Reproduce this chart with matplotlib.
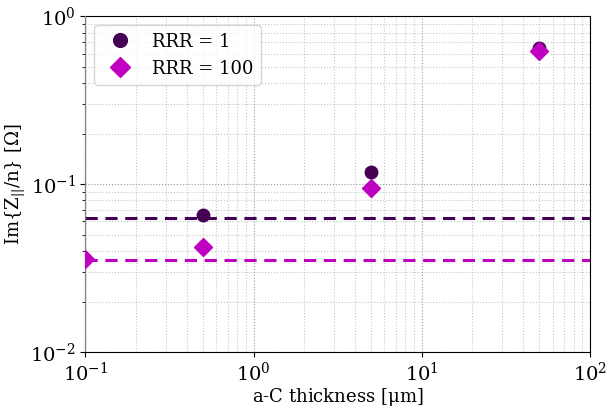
import matplotlib
matplotlib.use('Agg')
import matplotlib.pyplot as plt
import numpy as np

# a-C coating thickness [um]
thickness_rrr1 = [0.5, 5.0, 50.0]
imz_rrr1 = [0.066, 0.119, 0.645]
thickness_rrr100 = [0.1, 0.5, 5.0, 50.0]
imz_rrr100 = [0.036, 0.042, 0.095, 0.62]

# uncoated reference levels
ref_rrr1 = 0.0625
ref_rrr100 = 0.0355

c1 = '#440154'
c100 = '#c000c0'

plt.rcParams['font.family'] = 'DejaVu Serif'
plt.rcParams['mathtext.fontset'] = 'dejavuserif'

fig, ax = plt.subplots(figsize=(6.1, 4.08), dpi=100)

ax.axhline(ref_rrr1, color=c1, ls='--', lw=2.2, dashes=(4, 2.5))
ax.axhline(ref_rrr100, color=c100, ls='--', lw=2.2, dashes=(4, 2.5))
ax.axvline(0.1, color='gray', lw=1.6, zorder=2.6)

ax.plot(thickness_rrr1, imz_rrr1, 'o', color=c1, ms=9, label='RRR = 1', zorder=3)
ax.plot(thickness_rrr100, imz_rrr100, 'D', color=c100, ms=9, label='RRR = 100', zorder=3)

ax.set_xscale('log')
ax.set_yscale('log')
ax.set_xlim(0.1, 100)
ax.set_ylim(0.01, 1)

ax.grid(True, which='major', ls=':', color='gray', alpha=0.8)
ax.grid(True, which='minor', ls=':', color='gray', alpha=0.45)
ax.tick_params(labelsize=14)
ax.tick_params(axis='x', which='minor', length=0)

ax.set_xlabel(r'a-C thickness [$\mathrm{\mu}$m]', fontsize=13, labelpad=1)
ax.set_ylabel(r'Im{Z$_{||}$/n} [$\Omega$]', fontsize=13, labelpad=2)

ax.legend(loc='upper left', fontsize=13, handletextpad=0.8, markerscale=1.1)

fig.subplots_adjust(left=0.14, right=0.967, top=0.96, bottom=0.137)
fig.savefig('out.png')
